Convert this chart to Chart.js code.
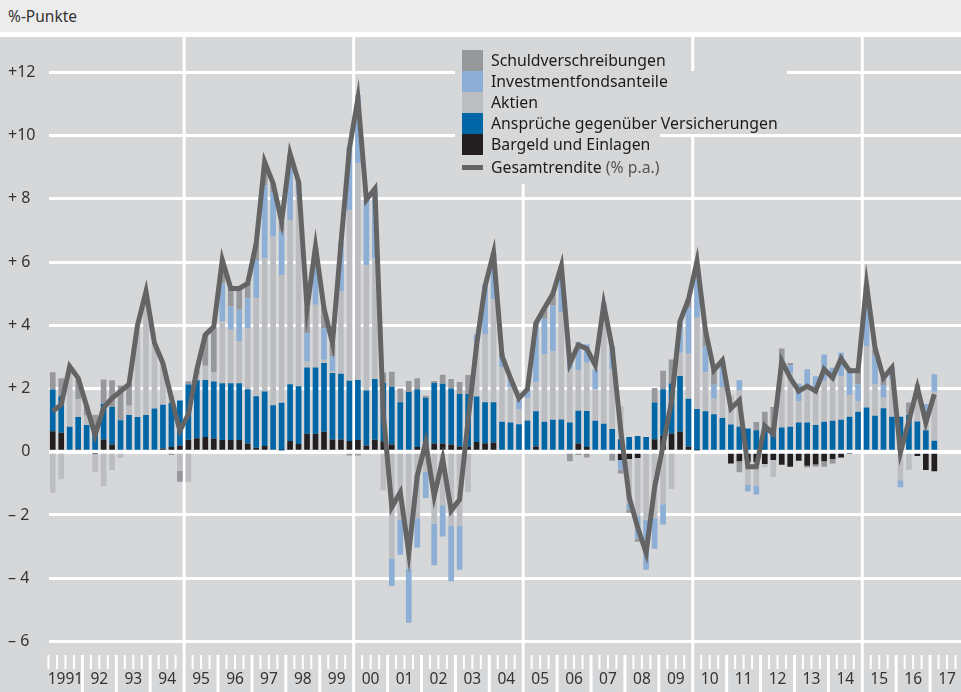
<!DOCTYPE html>
<html lang="de">
<head>
<meta charset="utf-8">
<title>Renditebeiträge Geldvermögen</title>
<script src="https://cdn.jsdelivr.net/npm/chart.js@4.4.1/dist/chart.umd.min.js"></script>
<style>
  html, body { margin: 0; padding: 0; overflow: hidden; background: #d6d7d9; font-family: "Noto Sans", sans-serif; }
  #kopf { position: absolute; left: 0; top: 0; width: 961px; height: 32px; background: #ececec; color: #333; font-size: 15.5px; line-height: 32px; padding-left: 8px; box-sizing: border-box; }
  #trenner { position: absolute; left: 0; top: 32px; width: 961px; height: 5px; background: #fff; }
  #wrap { position: absolute; left: 0; top: 37px; width: 964px; height: 655px; }
  #legende { position: absolute; left: 0; top: 0; font-size: 15.8px; color: #1b1b1b; }
  .block { position: absolute; left: 455px; background: #d6d7d9; }
  .feld { position: absolute; left: 462px; width: 21px; height: 21px; }
  .text { position: absolute; left: 491px; height: 21px; line-height: 21px; white-space: nowrap; }
  .text span { color: #555; }
</style>
</head>
<body>
<div id="kopf">%-Punkte</div>
<div id="trenner"></div>
<div id="wrap"><canvas id="chart" width="964" height="655"></canvas></div>
<div id="legende"></div>

<script>
// Jahre auf der x-Achse (Quartalswerte, letzter Wert 2017 Q1)
const jahre = ['1991', '92', '93', '94', '95', '96', '97', '98', '99', '00', '01', '02', '03', '04',
  '05', '06', '07', '08', '09', '10', '11', '12', '13', '14', '15', '16', '17'];

// y-Achse
const yWerte = [-6, -4, -2, 0, 2, 4, 6, 8, 10, 12];
const yBeschriftung = ['\u2013 6', '\u2013 4', '\u2013 2', '\u2007 0', '+ 2', '+ 4', '+ 6', '+ 8', '+10', '+12'];

// Beiträge in %-Punkten, 1991 Q1 bis 2017 Q1
const bargeld = [
  0.65, 0.6, 0, 0.08, 0, -0.05, 0.39, 0.23, 0, 0, 0, 0, 0, 0.1, 0.15, 0.2,
  0.38, 0.43, 0.47, 0.42, 0.37, 0.37, 0.37, 0.26, 0.13, 0.18, 0.07, 0.05, 0.34, 0.25, 0.57, 0.57,
  0.63, 0.39, 0.39, 0.34, 0.37, 0.2, 0.38, 0.33, 0.23, 0, 0, 0.15, 0, 0.26, 0.26, 0.23,
  0.17, 0.17, 0.31, 0.27, 0.29, 0, 0, -0.06, 0, 0.17, 0, 0, 0, 0, 0.26, 0.15,
  0, 0, 0, -0.26, -0.23, -0.2, 0, 0.4, 0.5, 0.58, 0.63, 0.16, 0.05, 0, 0, 0,
  -0.37, -0.3, -0.32, -0.32, -0.39, -0.26, -0.41, -0.47, -0.28, -0.44, -0.4, -0.3, -0.23, -0.18, -0.05, 0,
  0, 0, 0, 0, 0, 0, -0.13, -0.58, -0.62
];
const versicherungen = [
  1.32, 1.16, 0.79, 1.02, 0.85, 0.79, 1.13, 1.19, 1.0, 1.16, 1.1, 1.16, 1.37, 1.39, 1.4, 1.42,
  1.75, 1.83, 1.8, 1.8, 1.8, 1.8, 1.8, 1.72, 1.63, 1.73, 1.4, 1.5, 1.8, 1.82, 2.1, 2.1,
  2.18, 2.1, 2.08, 1.91, 1.9, 1.74, 1.92, 1.85, 1.83, 1.57, 1.89, 1.83, 1.71, 1.92, 1.89, 1.77,
  1.66, 1.66, 1.44, 1.3, 1.28, 0.95, 0.93, 0.87, 0.99, 1.11, 0.95, 1.01, 1.02, 0.93, 1.04, 1.14,
  0.98, 0.89, 0.72, 0.4, 0.47, 0.5, 0.47, 1.16, 1.48, 1.58, 1.77, 1.52, 1.3, 1.28, 1.19, 1.07,
  0.86, 0.79, 0.74, 0.68, 0.82, 0.77, 0.77, 0.79, 0.93, 0.93, 0.85, 0.95, 0.98, 1.01, 1.11, 1.27,
  1.4, 1.14, 1.38, 1.11, 1.11, 1.16, 0.96, 0.68, 0.35
];
const aktien = [
  -1.3, -0.87, 1.75, 0.56, 0.3, -0.6, -1.09, -0.58, -0.2, 0.3, 2.7, 3.5, 2.0, 1.3, 0.25, -0.6,
  -0.95, 0.2, 0.45, 0.3, 1.95, 1.69, 1.32, 1.93, 3.1, 4.21, 5.33, 4.04, 5.19, 6.05, 0.19, 1.98,
  0.1, 0.05, 2.6, 5.39, 6.87, 3.96, 3.81, -1.22, -3.38, -2.15, -3.7, -2.1, -0.64, -2.27, -1.69, -2.35,
  -2.35, -1.28, 1.75, 2.16, 3.26, 1.73, 1.1, 0.47, 0.7, 0.93, 2.13, 2.16, 3.4, 1.69, 1.28, 1.53,
  1.0, 3.45, 1.89, 1.05, -1.4, -1.84, -2.15, -2.1, -1.66, -1.18, 0.73, 1.42, 2.89, 1.24, 0.49, 0.98,
  0.93, 1.16, -0.73, -0.75, -0.1, -0.54, 1.9, 1.7, 0.68, 1.15, 1.2, 1.3, 1.31, 1.39, 0.69, 0.34,
  1.94, 1.0, 0.33, 1.2, -0.9, -0.58, 1.07, 0.5, 1.55
];
const fonds = [
  0, 0, 0, 0, 0, 0, 0, 0, 0, 0, 0, 0, 0, 0, 0, 0,
  0, 0, 0, 0, 1.21, 0.74, 1.0, 0.95, 1.21, 2.31, 1.42, 1.37, 1.63, 0.42, 0.89, 1.84,
  1.0, 0.48, 1.55, 2.0, 2.15, 2.07, 2.2, 0, -0.87, -1.11, -1.71, -0.93, -0.82, -1.32, -0.99, -1.75,
  -1.38, 0, 0.2, 1.57, 1.46, 0.46, 0.3, 0.29, 0.3, 1.86, 1.13, 1.46, 1.46, 0.5, 0.89, 0.58,
  0.62, 0.37, 0.73, -0.3, -0.2, -0.7, -1.58, -0.97, -0.64, 0, 0.95, 1.44, 1.7, 0.82, 0.44, 0.84,
  0, 0.31, -0.21, -0.28, 0, 0, 0.3, 0.25, 0.55, 0.53, 0.34, 0.83, 0.37, 0.73, 0.76, 0.52,
  1.95, 0.9, 0.4, 0.35, -0.22, 0, 0, 0.33, 0.55
];
const schuld = [
  0.55, 0.57, 0, 0.63, 0.3, 0.38, 0.77, 0.84, 1.1, 0.68, 0, 0, 0, 0, -0.1, -0.35,
  0.1, 0.14, 1.0, 1.4, 0.5, 0.57, 0.68, 0.47, 0.5, 0.7, 0.27, 0.32, 0.45, 0, 0.79, 0,
  0.63, 0.4, 0, -0.12, -0.12, 0, 0, 0.32, 0.47, 0.43, 0.35, 0.35, 0.06, 0.06, 0.29, 0.3,
  0.38, 0.6, 0, 0, 0, 0, 0, 0, 0, 0, 0.3, 0.37, 0, -0.3, -0.1, -0.18,
  0, 0, -0.28, -0.13, -0.1, -0.11, 0, 0.46, 0.58, 0.76, 0, 0.28, 0, 0.5, 0.46, 0,
  0, -0.35, 0, 0.26, 0.45, 0.65, 0.3, 0.07, 0, -0.06, -0.07, -0.17, -0.14, 0, 0, 0.43,
  0, 0.2, 0.23, 0, 0, 0.4, 0.1, 0, 0
];
// Gesamtrendite in % p.a.
const gesamt = [
  1.28, 1.49, 2.7, 2.33, 1.44, 0.53, 1.39, 1.7, 1.91, 2.14, 4.0, 5.07, 3.44, 2.8, 1.7, 0.67,
  1.18, 2.6, 3.7, 3.96, 6.07, 5.17, 5.17, 5.33, 6.59, 9.17, 8.49, 7.28, 9.43, 8.54, 4.54, 6.49,
  4.54, 3.44, 6.59, 9.59, 11.18, 7.97, 8.32, 1.2, -1.75, -1.28, -3.2, -0.76, 0.29, -1.4, -0.23, -1.86,
  -1.51, 1.0, 3.38, 5.24, 6.29, 3.03, 2.33, 1.69, 1.98, 4.07, 4.54, 5.0, 5.88, 2.79, 3.38, 3.26,
  2.74, 4.66, 3.29, 0.7, -1.44, -2.39, -3.2, -1.13, 0.2, 1.6, 4.13, 4.82, 6.03, 3.84, 2.58, 2.89,
  1.37, 1.63, -0.47, -0.47, 0.82, 0.56, 2.87, 2.34, 1.92, 2.08, 1.92, 2.61, 2.34, 2.95, 2.56, 2.56,
  5.29, 3.29, 2.34, 2.66, -0.02, 0.98, 2.03, 0.93, 1.82
];

// Kategorien: vier Quartale je Jahr
const quartale = [];
jahre.forEach(j => {
  for (let q = 1; q <= 4; q++) quartale.push(j + ' Q' + q);
});

// Reihenfolge im Stapel: von der Nulllinie nach außen
const reihen = [
  { label: 'Bargeld und Einlagen', data: bargeld, color: '#231f20' },
  { label: 'Ansprüche gegenüber Versicherungen', data: versicherungen, color: '#0066a6' },
  { label: 'Aktien', data: aktien, color: '#bcbdc1' },
  { label: 'Investmentfondsanteile', data: fonds, color: '#8daed5' },
  { label: 'Schuldverschreibungen', data: schuld, color: '#97989c' }
];
const linienFarbe = '#646465';

// Legende als HTML (Hintergrund deckt die Gitterlinien ab wie im Original)
function renderLegende() {
  const el = document.getElementById('legende');
  const bloecke = [[37, 34, 218], [71, 63, 332], [134, 21, 205], [155, 29, 217]];
  let html = bloecke.map(b => `<div class="block" style="top:${b[0]}px;height:${b[1]}px;width:${b[2]}px"></div>`).join('');
  [...reihen].reverse().forEach((r, i) => {
    const top = 50 + i * 21;
    html += `<div class="feld" style="top:${top}px;background:${r.color}"></div>`;
    html += `<div class="text" style="top:${top}px">${r.label}</div>`;
  });
  html += `<div class="feld" style="top:165px;height:5px;background:${linienFarbe}"></div>`;
  html += `<div class="text" style="top:157px">Gesamtrendite <span>(% p.a.)</span></div>`;
  el.innerHTML = html;
}

// Quartalsstriche, Jahrestrenner und 5-Jahres-Linien
const achsenPlugin = {
  id: 'achse',
  beforeDatasetsDraw(chart) {
    const ctx = chart.ctx;
    const xs = chart.scales.x;
    const unten = chart.chartArea.bottom;
    const h = chart.height;
    ctx.save();
    ctx.fillStyle = '#ffffff';
    for (let k = 0; k <= quartale.length; k++) {
      const px = xs.getPixelForValue(k - 0.5);
      if (k % 20 === 16) {
        ctx.fillRect(px - 1.5, 0, 3, h);
      } else if (k % 4 === 0 && k > 0) {
        ctx.fillRect(px - 1.5, unten, 3, h - unten);
      } else {
        ctx.fillRect(px - 1, unten, 2, 14);
      }
    }
    ctx.restore();
  }
};

function renderChart() {
  const datasets = reihen.map(r => ({
    label: r.label,
    data: r.data,
    backgroundColor: r.color,
    borderWidth: 0,
    barPercentage: 0.67,
    categoryPercentage: 1,
    stack: 'beitraege',
    order: 1
  }));
  datasets.push({
    type: 'line',
    label: 'Gesamtrendite',
    data: gesamt,
    borderColor: linienFarbe,
    borderWidth: 5,
    borderJoinStyle: 'miter',
    pointRadius: 0,
    tension: 0,
    stack: 'linie',
    order: 0
  });

  new Chart(document.getElementById('chart'), {
    type: 'bar',
    data: { labels: quartale, datasets: datasets },
    plugins: [achsenPlugin],
    options: {
      responsive: false,
      animation: false,
      layout: { padding: { left: 8, right: 0, top: 0, bottom: 0 } },
      plugins: { legend: { display: false }, tooltip: { enabled: false } },
      scales: {
        x: {
          stacked: true,
          offset: true,
          // unsichtbare Ticks nur als Abstand für die Jahreszahlen
          grid: { display: true, drawOnChartArea: false, drawTicks: true, tickLength: 15, color: 'rgba(0,0,0,0)' },
          border: { display: false },
          afterFit: axis => { axis.height = 37; },
          ticks: {
            autoSkip: false,
            maxRotation: 0,
            minRotation: 0,
            padding: 0,
            labelOffset: 4.24,
            color: '#333',
            font: { family: 'Noto Sans', size: 15.5 },
            callback: (v, i) => (i % 4 === 1 ? jahre[Math.floor(i / 4)] : '')
          }
        },
        y: {
          stacked: true,
          min: -6.43,
          max: 12.82,
          afterBuildTicks: axis => { axis.ticks = yWerte.map(v => ({ value: v })); },
          afterFit: axis => { axis.width = 40.5; },
          border: { display: false },
          grid: {
            color: '#ffffff',
            lineWidth: c => (c.tick && c.tick.value === 0 ? 4 : 3),
            drawTicks: false
          },
          ticks: {
            crossAlign: 'far',
            padding: 0,
            color: '#333',
            font: { family: 'Noto Sans', size: 16 },
            callback: v => yBeschriftung[yWerte.indexOf(v)]
          }
        }
      }
    }
  });
}

renderLegende();
renderChart();
</script>
</body>
</html>
